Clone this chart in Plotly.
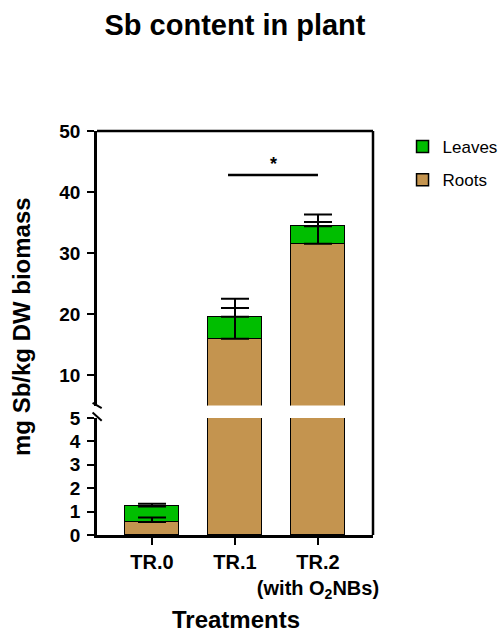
import plotly.graph_objects as go

# ---- data ----
categories = ["TR.0", "TR.1", "TR.2<br>(with O<sub>2</sub>NBs)"]
roots = [0.56, 15.95, 31.5]
leaves = [0.66, 3.6, 2.9]
roots_err = [0.19, 5.05, 3.6]
leaves_err = [0.12, 2.95, 1.9]
lower_ticks = [0, 1, 2, 3, 4, 5]
upper_ticks = [10, 20, 30, 40, 50]
sig_line = (0.916, 2.0, 42.8)
sig_star = (1.46, 44.6, "*")

totals = [r + l for r, l in zip(roots, leaves)]

GREEN = "#00BE00"
BROWN = "#C4944F"
FONT = "Liberation Sans, Arial, sans-serif"

W, H = 502, 632
PL, PR, PT, PB = 97, 373, 131, 535
PW, PH = PR - PL, PB - PT

fig = go.Figure()

for yax, show in (("y", False), ("y2", True)):
    fig.add_trace(go.Bar(
        x=categories, y=roots, name="Roots", yaxis=yax, xaxis="x",
        marker=dict(color=BROWN, line=dict(color="black", width=1.5)),
        width=0.65, showlegend=show, legendgroup="roots", legendrank=2,
    ))
    fig.add_trace(go.Bar(
        x=categories, y=leaves, name="Leaves", yaxis=yax, xaxis="x",
        marker=dict(color=GREEN, line=dict(color="black", width=1.5)),
        width=0.65, showlegend=show, legendgroup="leaves", legendrank=1,
    ))
    fig.add_trace(go.Scatter(
        x=categories, y=roots, yaxis=yax, xaxis="x", mode="markers",
        marker=dict(size=1, color="rgba(0,0,0,0)"), showlegend=False, hoverinfo="skip",
        error_y=dict(type="data", symmetric=False, array=roots_err,
                     arrayminus=[0] * len(roots), color="black", thickness=2, width=14),
    ))
    fig.add_trace(go.Scatter(
        x=categories, y=totals, yaxis=yax, xaxis="x", mode="markers",
        marker=dict(size=1, color="rgba(0,0,0,0)"), showlegend=False, hoverinfo="skip",
        error_y=dict(type="data", symmetric=False, array=leaves_err,
                     arrayminus=[0] * len(totals), color="black", thickness=2, width=14),
    ))

tickfont = dict(family=FONT, size=19, color="black", weight="bold")
xtickfont = dict(family=FONT, size=20, color="black", weight="bold")

fig.update_layout(
    width=W, height=H,
    margin=dict(l=PL, r=W - PR, t=PT, b=H - PB, autoexpand=False),
    plot_bgcolor="white", paper_bgcolor="white",
    barmode="stack", bargap=0,
    font=dict(family=FONT, color="black"),
    title=dict(text="<b>Sb content in plant</b>", x=235 / W, xanchor="center",
               y=1 - 25 / H, yanchor="middle", yref="container",
               font=dict(family=FONT, size=29, color="black")),
    xaxis=dict(
        anchor="y", range=[-0.663, 2.663], showline=True, linecolor="black", linewidth=2.5,
        ticks="outside", ticklen=7, tickwidth=2, tickcolor="black", tickangle=0,
        tickfont=xtickfont, showgrid=False, zeroline=False, ticklabelstandoff=0,
        automargin=False,
    ),
    yaxis=dict(
        domain=[0, 0.2896], range=[0, 5], tickvals=lower_ticks, showline=True,
        linecolor="black", linewidth=2.5, ticks="outside", ticklen=7, tickwidth=2,
        tickcolor="black", tickfont=tickfont, showgrid=False, zeroline=False,
        ticklabelstandoff=3, automargin=False,
    ),
    yaxis2=dict(
        domain=[0.3205, 1], range=[5, 50], tickvals=upper_ticks, anchor="x", showline=True,
        linecolor="black", linewidth=2.5, ticks="outside", ticklen=7, tickwidth=2,
        tickcolor="black", tickfont=tickfont, showgrid=False, zeroline=False,
        ticklabelstandoff=3, automargin=False,
    ),
    legend=dict(x=1.107, y=1.005, xanchor="left", yanchor="top",
                font=dict(family=FONT, size=17, color="black"),
                tracegroupgap=8, bgcolor="rgba(0,0,0,0)"),
    showlegend=True,
)

# frame (top and right sides)
fig.add_shape(type="line", xref="paper", yref="paper", x0=0, x1=1, y0=1, y1=1,
              line=dict(color="black", width=2.5))
fig.add_shape(type="line", xref="paper", yref="paper", x0=1, x1=1, y0=0, y1=1,
              line=dict(color="black", width=2.5))
# axis break marks
fig.add_shape(type="line", xref="paper", yref="paper", x0=-0.016, x1=0.017,
              y0=0.327, y1=0.314, line=dict(color="black", width=2))
fig.add_shape(type="line", xref="paper", yref="paper", x0=-0.016, x1=0.017,
              y0=0.303, y1=0.283, line=dict(color="black", width=2))

# significance
fig.add_shape(type="line", xref="x", yref="y2", x0=sig_line[0], x1=sig_line[1],
              y0=sig_line[2], y1=sig_line[2], line=dict(color="black", width=2.5))
fig.add_annotation(x=sig_star[0], y=sig_star[1], xref="x", yref="y2", text="<b>" + sig_star[2] + "</b>",
                   showarrow=False, font=dict(family=FONT, size=18, color="black"))

# axis titles
fig.add_annotation(x=-75.5 / PW, y=0.516, xref="paper", yref="paper",
                   text="<b>mg Sb/kg DW biomass</b>", textangle=-90, showarrow=False,
                   xanchor="center", yanchor="middle",
                   font=dict(family=FONT, size=24, color="black"))
fig.add_annotation(x=0.5036, y=-84 / PH, xref="paper", yref="paper",
                   text="<b>Treatments</b>", showarrow=False,
                   xanchor="center", yanchor="middle",
                   font=dict(family=FONT, size=24, color="black"))

fig.write_html(
    "out.html",
    config={"displayModeBar": False},
    post_script="document.body.style.margin='0';document.body.style.overflow='hidden';",
)
